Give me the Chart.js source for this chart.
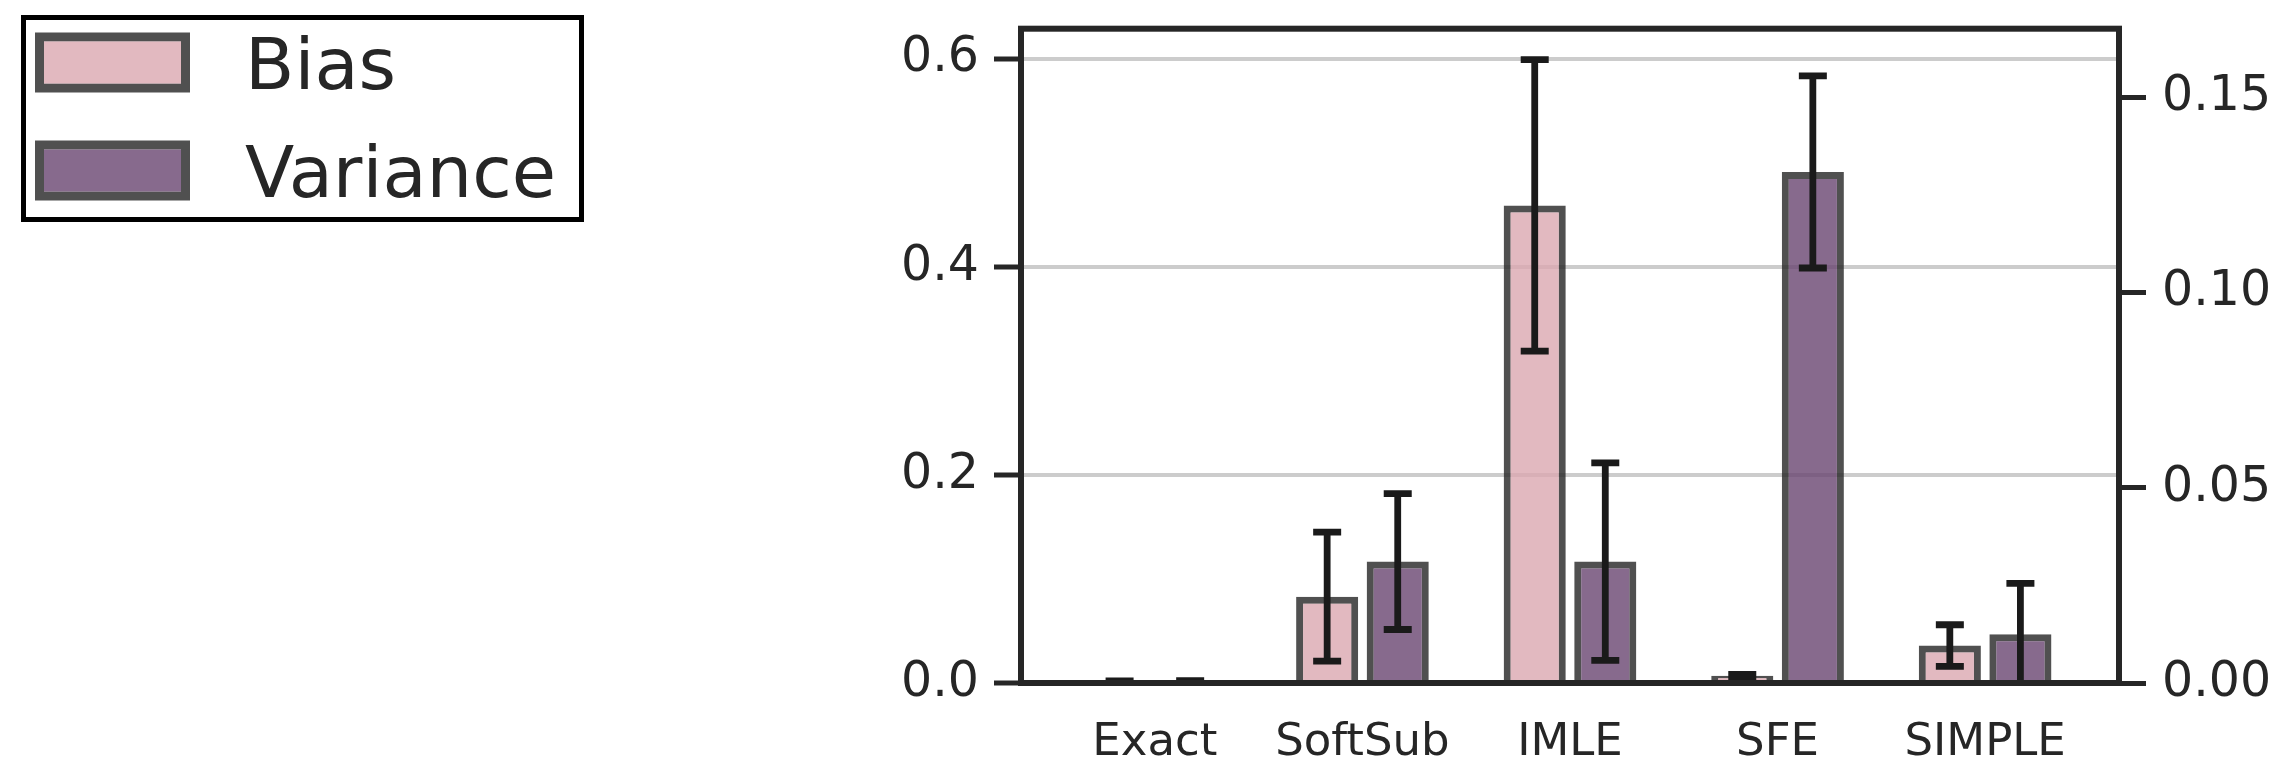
<!DOCTYPE html>
<html>
<head>
<meta charset="utf-8">
<script src="https://cdn.jsdelivr.net/npm/chart.js@4.4.1/dist/chart.umd.min.js"></script>
<style>
  html, body { margin: 0; padding: 0; background: #ffffff; }
  canvas { display: block; }
</style>
</head>
<body>
<canvas id="chart" width="2280" height="764"></canvas>
<script>
// Methods on the x axis
const categories = ['Exact', 'SoftSub', 'IMLE', 'SFE', 'SIMPLE'];

// Bias (left axis) with its error half-widths
const biasValues = [0.001, 0.083, 0.459, 0.007, 0.036];
const biasErrors = [0.001, 0.062, 0.140, 0.0012, 0.020];

// Variance (right axis) with its error half-widths
const varianceValues = [0.0003, 0.0311, 0.0311, 0.1309, 0.0125];
const varianceErrors = [0.0003, 0.0174, 0.0253, 0.0246, 0.0130];

// Tick labels
const biasTicks = [0, 0.2, 0.4, 0.6];
const varianceTicks = [0, 0.05, 0.10, 0.15];

const FONT = 'DejaVu Sans';
const TEXT = '#262626';
const SPINE = '#262626';

// Error bars drawn over the bars, clipped to the plot area
const errorBars = {
  id: 'errorBars',
  afterDatasetsDraw(chart) {
    const { ctx, chartArea } = chart;
    ctx.save();
    ctx.beginPath();
    ctx.rect(chartArea.left, chartArea.top, chartArea.right - chartArea.left, chartArea.bottom - chartArea.top);
    ctx.clip();
    ctx.strokeStyle = '#1a1a1a';
    ctx.lineWidth = 6.8;
    ctx.lineCap = 'butt';
    chart.data.datasets.forEach((ds, di) => {
      const meta = chart.getDatasetMeta(di);
      const yScale = chart.scales[meta.yAxisID];
      meta.data.forEach((bar, i) => {
        const v = ds.data[i].y;
        const e = ds.errors[i];
        const yTop = yScale.getPixelForValue(v + e);
        const yBot = yScale.getPixelForValue(v - e);
        const cap = 14;
        ctx.beginPath();
        ctx.moveTo(bar.x, yTop); ctx.lineTo(bar.x, yBot);
        ctx.moveTo(bar.x - cap, yTop); ctx.lineTo(bar.x + cap, yTop);
        ctx.moveTo(bar.x - cap, yBot); ctx.lineTo(bar.x + cap, yBot);
        ctx.stroke();
      });
    });
    ctx.restore();
  }
};

// Box frame around the plot area
const frame = {
  id: 'frame',
  afterDatasetsDraw(chart) {
    const { ctx, chartArea } = chart;
    ctx.save();
    ctx.strokeStyle = SPINE;
    ctx.lineWidth = 6;
    ctx.strokeRect(chartArea.left, chartArea.top, chartArea.right - chartArea.left, chartArea.bottom - chartArea.top);
    ctx.restore();
  }
};

// Framed legend in the upper left corner
const boxedLegend = {
  id: 'boxedLegend',
  afterDraw(chart) {
    const ctx = chart.ctx;
    ctx.save();
    ctx.lineWidth = 5;
    ctx.strokeStyle = '#000000';
    ctx.strokeRect(23.5, 17.5, 558, 202);
    chart.data.datasets.forEach((ds, i) => {
      const cy = 62.5 + i * 108;
      const x = 35, w = 155, h = 60, y = cy - h / 2, bw = 9;
      ctx.beginPath();
      ctx.rect(x, y, w, h);
      ctx.rect(x + bw, y + bw, w - 2 * bw, h - 2 * bw);
      ctx.fillStyle = ds.borderColor;
      ctx.fill('evenodd');
      ctx.fillStyle = ds.backgroundColor;
      ctx.fillRect(x + bw, y + bw, w - 2 * bw, h - 2 * bw);
      ctx.fillStyle = TEXT;
      ctx.font = '72px "' + FONT + '"';
      ctx.textBaseline = 'alphabetic';
      ctx.textAlign = 'left';
      ctx.fillText(ds.label, 245, cy + 26.2);
    });
    ctx.restore();
  }
};

// Fixed axis sizes, without the extra label overhang padding
const fixWidth = (w) => (s) => { s.width = w; s.paddingTop = 0; s.paddingBottom = 0; };

new Chart(document.getElementById('chart'), {
  type: 'bar',
  data: {
    datasets: [
      {
        label: 'Bias',
        data: categories.map((c, i) => ({ x: i, y: biasValues[i] })),
        errors: biasErrors,
        yAxisID: 'y',
        backgroundColor: 'rgba(219,168,176,0.8)',
        borderColor: 'rgba(36,36,36,0.8)'
      },
      {
        label: 'Variance',
        data: categories.map((c, i) => ({ x: i, y: varianceValues[i] })),
        errors: varianceErrors,
        yAxisID: 'y1',
        backgroundColor: 'rgba(105,69,113,0.8)',
        borderColor: 'rgba(36,36,36,0.8)'
      }
    ]
  },
  options: {
    responsive: false,
    animation: false,
    devicePixelRatio: 1,
    layout: { padding: { top: 28.7, left: 0, right: 0, bottom: 0 } },
    plugins: {
      legend: { display: false },
      tooltip: { enabled: false }
    },
    datasets: {
      bar: {
        categoryPercentage: 0.68,
        barPercentage: 0.88,
        borderWidth: 7,
        borderSkipped: 'start'
      }
    },
    scales: {
      x: {
        type: 'linear',
        offset: false,
        min: -0.645,
        max: 4.645,
        grid: { display: false, drawTicks: false },
        border: { display: false },
        afterBuildTicks: (s) => { s.ticks = categories.map((c, i) => ({ value: i })); },
        ticks: {
          callback: (v) => categories[v],
          font: { family: FONT, size: 45 },
          color: TEXT,
          padding: 33,
          maxRotation: 0,
          autoSkip: false
        },
        afterFit: (s) => { s.height = 81; s.paddingLeft = 0; s.paddingRight = 0; }
      },
      y: {
        type: 'linear',
        position: 'left',
        min: 0,
        max: 0.6288,
        afterBuildTicks: (s) => { s.ticks = biasTicks.map((v) => ({ value: v })); },
        ticks: {
          callback: (v) => v.toFixed(1),
          font: { family: FONT, size: 49 },
          color: TEXT,
          padding: 15
        },
        grid: {
          color: '#cccccc',
          lineWidth: 4,
          tickColor: SPINE,
          tickWidth: 5,
          tickLength: 27
        },
        border: { display: false },
        afterFit: fixWidth(1021)
      },
      y1: {
        type: 'linear',
        position: 'right',
        min: 0,
        max: 0.1676,
        afterBuildTicks: (s) => { s.ticks = varianceTicks.map((v) => ({ value: v })); },
        ticks: {
          callback: (v) => v.toFixed(2),
          font: { family: FONT, size: 49 },
          color: TEXT,
          padding: 16
        },
        grid: {
          drawOnChartArea: false,
          tickColor: SPINE,
          tickWidth: 5,
          tickLength: 27
        },
        border: { display: false },
        afterFit: fixWidth(161)
      }
    }
  },
  plugins: [errorBars, frame, boxedLegend]
});
</script>
</body>
</html>
